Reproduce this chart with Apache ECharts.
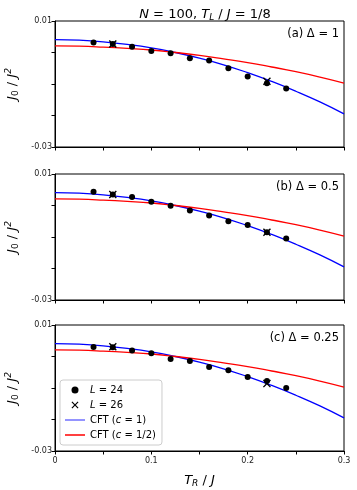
<!DOCTYPE html>
<html lang="en">
<head>
    <meta charset="UTF-8">
    <title>J0 vs TR</title>
    <style>
        html, body { margin: 0; padding: 0; background: #fff; }
        .mychart { width: 357px; height: 490px; }
    </style>
</head>
<body>
    <div class="mychart"></div>
</body>
<script src="https://cdn.jsdelivr.net/npm/echarts@6/dist/echarts.min.js"></script>
<script>
    // L = 24 points, same T_R in every panel
    const tL24 = [0.04, 0.06, 0.08, 0.10, 0.12, 0.14, 0.16, 0.18, 0.20, 0.22, 0.24]
    const aL24 = [0.0032, 0.0027, 0.0018, 0.0005, -0.0002, -0.0018, -0.0025, -0.0050, -0.0076, -0.0098, -0.0114]
    const bL24 = [0.0044, 0.0035, 0.0027, 0.0012, -0.0001, -0.0016, -0.0032, -0.0050, -0.0062, -0.0085, -0.0105]
    const cL24 = [0.0030, 0.0029, 0.0019, 0.0010, -0.0008, -0.0014, -0.0033, -0.0044, -0.0065, -0.0078, -0.0100]
    // L = 26 points
    const tL26 = [0.06, 0.22]
    const aL26 = [0.0027, -0.0091]
    const bL26 = [0.0035, -0.0085]
    const cL26 = [0.0031, -0.0086]
    // CFT curves (same in all panels)
    const tCft = [0, 0.025, 0.05, 0.075, 0.1, 0.125, 0.15, 0.175, 0.2, 0.225, 0.25, 0.275, 0.3]
    const cft1 = [0.0041, 0.0039, 0.0034, 0.0026, 0.0015, 0.0000, -0.0018, -0.0039, -0.0064, -0.0092, -0.0123, -0.0157, -0.0195]
    const cftHalf = [0.0021, 0.0020, 0.0017, 0.0013, 0.0008, 0.0000, -0.0009, -0.0020, -0.0032, -0.0046, -0.0061, -0.0078, -0.0097]
    const panelLabels = ['(a) Δ = 1', '(b) Δ = 0.5', '(c) Δ = 0.25']

    const pts = (xs, ys) => xs.map((x, i) => [x, ys[i]])
    const FONT = 'DejaVu Sans'
    const xMark = 'path://M0,1.2L1.2,0L5,3.8L8.8,0L10,1.2L6.2,5L10,8.8L8.8,10L5,6.2L1.2,10L0,8.8L3.8,5Z'
    const lineIcon = 'path://M0,0L40,0L40,3L0,3Z'

    const mychartDom = document.querySelector('.mychart')
    const myChart = echarts.init(mychartDom)

    const tops = [21, 174, 325]
    const grid = tops.map(t => ({
        left: 55, right: 13, top: t, height: 126,
        show: true, borderColor: '#000', borderWidth: 1,
        outerBoundsMode: 'none'
    }))

    const yLabel = {
        name: '{i|J}{sub|0} / {i|J}{sup|2}',
        nameLocation: 'middle', nameRotate: 90, nameGap: 27,
        nameTextStyle: {
            fontFamily: FONT, fontSize: 13, color: '#000',
            rich: {
                i: { fontStyle: 'italic', fontFamily: FONT, fontSize: 13 },
                sub: { fontFamily: FONT, fontSize: 9, padding: [6, 0, 0, 0] },
                sup: { fontStyle: 'italic', fontFamily: FONT, fontSize: 9, padding: [0, 0, 8, 0] }
            }
        }
    }

    const xAxis = [0, 1, 2].map(i => ({
        type: 'value', gridIndex: i, min: 0, max: 0.3, interval: 0.05,
        splitLine: { show: false },
        axisLine: { onZero: false, lineStyle: { color: '#000' } },
        axisTick: { length: 3.5, lineStyle: { color: '#000' } },
        axisLabel: {
            show: i === 2, fontFamily: FONT, fontSize: 8, color: '#222', margin: 6,
            formatter: v => {
                const r = Math.round(v * 100) / 100
                if (Math.abs(r * 10 - Math.round(r * 10)) > 1e-6) return ''
                return r === 0 ? '0' : String(r)
            }
        },
        name: i === 2 ? '{i|T}{sub|R} / {i|J}' : '',
        nameLocation: 'middle', nameGap: 22,
        nameTextStyle: {
            fontFamily: FONT, fontSize: 13, color: '#000',
            rich: {
                i: { fontStyle: 'italic', fontFamily: FONT, fontSize: 13 },
                sub: { fontStyle: 'italic', fontFamily: FONT, fontSize: 9, padding: [6, 0, 0, 0] }
            }
        }
    }))

    const yAxis = [0, 1, 2].map(i => Object.assign({
        type: 'value', gridIndex: i, min: -0.03, max: 0.01, interval: 0.01,
        splitLine: { show: false },
        axisLine: { onZero: false, lineStyle: { color: '#000' } },
        axisTick: { length: 3.5, lineStyle: { color: '#000' } },
        axisLabel: {
            fontFamily: FONT, fontSize: 8, color: '#222', margin: 3,
            formatter: v => {
                if (Math.abs(v - 0.01) < 1e-9) return '0.01'
                if (Math.abs(v + 0.03) < 1e-9) return '-0.03'
                return ''
            }
        }
    }, yLabel))

    const l24 = [aL24, bL24, cL24]
    const l26 = [aL26, bL26, cL26]
    const series = []
    for (let i = 0; i < 3; i++) {
        series.push({
            type: 'line', name: 'CFT (c = 1)', xAxisIndex: i, yAxisIndex: i,
            data: pts(tCft, cft1), smooth: true, symbol: 'none',
            lineStyle: { color: '#0000ff', width: 1.3 }, itemStyle: { color: '#0000ff' }, z: 2
        })
        series.push({
            type: 'line', name: 'CFT (c = 1/2)', xAxisIndex: i, yAxisIndex: i,
            data: pts(tCft, cftHalf), smooth: true, symbol: 'none',
            lineStyle: { color: '#ff0000', width: 1.3 }, itemStyle: { color: '#ff0000' }, z: 2
        })
        series.push({
            type: 'scatter', name: 'L = 24', xAxisIndex: i, yAxisIndex: i,
            data: pts(tL24, l24[i]), symbol: 'circle', symbolSize: 6,
            itemStyle: { color: '#000', opacity: 1 }, z: 3
        })
        series.push({
            type: 'scatter', name: 'L = 26', xAxisIndex: i, yAxisIndex: i,
            data: pts(tL26, l26[i]), symbol: xMark, symbolSize: 8,
            itemStyle: { color: '#000', opacity: 1 }, z: 4
        })
    }

    const legendNames = {
        'L = 24': '{i|L} = 24',
        'L = 26': '{i|L} = 26',
        'CFT (c = 1)': 'CFT ({i|c} = 1)',
        'CFT (c = 1/2)': 'CFT ({i|c} = 1/2)'
    }

    const config = {
        animation: false,
        title: [{
            text: '{i|N} = 100, {i|T}{sub|L} / {i|J} = 1/8',
            left: 200, top: 2, textAlign: 'center',
            textStyle: {
                fontFamily: FONT, fontSize: 13, fontWeight: 'normal', color: '#000',
                rich: {
                    i: { fontStyle: 'italic', fontFamily: FONT, fontSize: 13 },
                    sub: { fontStyle: 'italic', fontFamily: FONT, fontSize: 9, padding: [6, 0, 0, 0] }
                }
            }
        }].concat(panelLabels.map((t, i) => ({
            text: t, right: 18, top: tops[i] + 7, padding: 0,
            textStyle: { fontFamily: FONT, fontSize: 11.5, fontWeight: 'normal', color: '#000' }
        }))),
        grid: grid,
        xAxis: xAxis,
        yAxis: yAxis,
        legend: {
            data: [
                { name: 'L = 24', icon: 'circle' },
                { name: 'L = 26', icon: xMark },
                { name: 'CFT (c = 1)', icon: lineIcon, itemStyle: { color: '#7070ff' } },
                { name: 'CFT (c = 1/2)', icon: lineIcon, itemStyle: { color: '#ff0000' } }
            ],
            orient: 'vertical', left: 60, top: 380,
            itemWidth: 20, itemHeight: 7, itemGap: 3,
            padding: [4, 6, 4, 5],
            borderColor: '#ccc', borderWidth: 1, borderRadius: 3,
            backgroundColor: 'rgba(255,255,255,0.8)',
            formatter: n => legendNames[n],
            textStyle: {
                fontFamily: FONT, fontSize: 10, color: '#000', lineHeight: 12,
                rich: { i: { fontStyle: 'italic', fontFamily: FONT, fontSize: 10 } }
            }
        },
        series: series
    }
    myChart.setOption(config)
</script>
</html>
